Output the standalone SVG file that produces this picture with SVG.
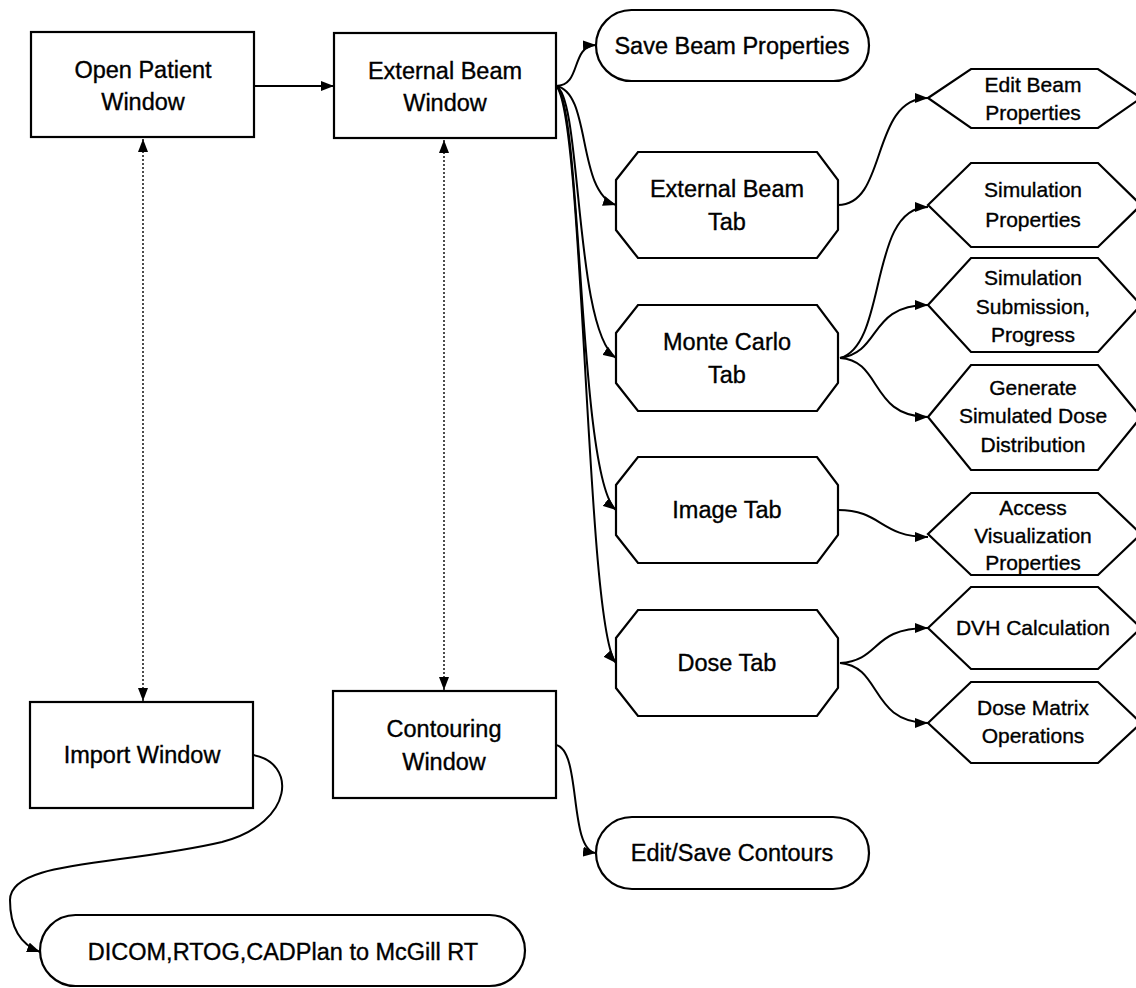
<svg xmlns="http://www.w3.org/2000/svg" width="1136" height="988" viewBox="0 0 1136 988">
  <style>
    .shape { fill: #fff; stroke: #000; stroke-width: 2.2; }
    .lbl { font-family: "Liberation Sans", Arial, sans-serif; font-size: 23.5px; text-anchor: middle; fill: #000; stroke: #000; stroke-width: 0.35; }
    .sm { font-size: 21px; }
    .edge { fill: none; stroke: #000; stroke-width: 2; }
    .dot { fill: none; stroke: #000; stroke-width: 1.4; stroke-dasharray: 2 2; }
  </style>
  <defs>
    <marker id="ah" viewBox="0 0 13 10" refX="13" refY="5" markerWidth="13" markerHeight="10" markerUnits="userSpaceOnUse" orient="auto-start-reverse">
      <path d="M0,0 L13,5 L0,10 z" fill="#000"/>
    </marker>
  </defs>
  <rect width="1136" height="988" fill="#fff"/>

  <!-- connectors -->
  <g id="connectors">
    <path class="edge" d="M254,86 L334,86" marker-end="url(#ah)"/>
    <path class="dot" d="M143,139 L143,701" marker-start="url(#ah)" marker-end="url(#ah)"/>
    <path class="dot" d="M444,140 L444,690" marker-start="url(#ah)" marker-end="url(#ah)"/>
    <path class="edge" d="M556,86 C582,86 570,46 596,45" marker-end="url(#ah)"/>
    <path class="edge" d="M556,86 C592,92 576,192 616,205" marker-end="url(#ah)"/>
    <path class="edge" d="M556,86 C582,96 574,330 616,358" marker-end="url(#ah)"/>
    <path class="edge" d="M556,86 C582,100 578,480 616,510" marker-end="url(#ah)"/>
    <path class="edge" d="M556,86 C584,110 586,630 616,663" marker-end="url(#ah)"/>
    <path class="edge" d="M838,205 C888,205 870,98 928,98" marker-end="url(#ah)"/>
    <path class="edge" d="M840,358 C888,345 868,207 928,207" marker-end="url(#ah)"/>
    <path class="edge" d="M840,358 C882,352 868,305 928,305" marker-end="url(#ah)"/>
    <path class="edge" d="M840,358 C882,360 870,417 928,417" marker-end="url(#ah)"/>
    <path class="edge" d="M838,510 C882,510 880,537 928,537" marker-end="url(#ah)"/>
    <path class="edge" d="M840,663 C882,660 870,628 928,628" marker-end="url(#ah)"/>
    <path class="edge" d="M840,663 C882,666 870,723 928,723" marker-end="url(#ah)"/>
    <path class="edge" d="M556,745 C582,750 568,850 596,853" marker-end="url(#ah)"/>
    <path class="edge" d="M253,755 C296,762 296,822 222,842 C120,866 10,860 10,900 C10,930 22,945 40,952" marker-end="url(#ah)"/>
  </g>

  <!-- windows -->
  <g id="open-patient">
    <rect class="shape" x="31" y="32" width="223" height="105"/>
    <text class="lbl" x="143" y="78">Open Patient</text>
    <text class="lbl" x="143" y="110">Window</text>
  </g>
  <g id="external-beam-window">
    <rect class="shape" x="334" y="33" width="222" height="105"/>
    <text class="lbl" x="445" y="79">External Beam</text>
    <text class="lbl" x="445" y="111">Window</text>
  </g>
  <g id="import-window">
    <rect class="shape" x="30" y="702" width="223" height="106"/>
    <text class="lbl" x="142" y="763">Import Window</text>
  </g>
  <g id="contouring-window">
    <rect class="shape" x="333" y="691" width="223" height="107"/>
    <text class="lbl" x="444" y="737">Contouring</text>
    <text class="lbl" x="444" y="770">Window</text>
  </g>

  <!-- terminal actions -->
  <g id="save-beam-properties">
    <rect class="shape" x="596" y="10" width="273" height="71" rx="35.5"/>
    <text class="lbl" x="732" y="54">Save Beam Properties</text>
  </g>
  <g id="edit-save-contours">
    <rect class="shape" x="596" y="817" width="273" height="72" rx="36"/>
    <text class="lbl" x="732" y="861">Edit/Save Contours</text>
  </g>
  <g id="dicom-import">
    <rect class="shape" x="40" y="915" width="485" height="71" rx="35.5"/>
    <text class="lbl" x="283" y="960">DICOM,RTOG,CADPlan to McGill RT</text>
  </g>

  <!-- tabs -->
  <g id="external-beam-tab">
    <polygon class="shape" points="638,152 817,152 838,180 838,230 817,258 638,258 616,230 616,180"/>
    <text class="lbl" x="727" y="197">External Beam</text>
    <text class="lbl" x="727" y="230">Tab</text>
  </g>
  <g id="monte-carlo-tab">
    <polygon class="shape" points="638,305 817,305 838,333 838,383 817,411 638,411 616,383 616,333"/>
    <text class="lbl" x="727" y="350">Monte Carlo</text>
    <text class="lbl" x="727" y="383">Tab</text>
  </g>
  <g id="image-tab">
    <polygon class="shape" points="638,457 817,457 838,485 838,535 817,563 638,563 616,535 616,485"/>
    <text class="lbl" x="727" y="518">Image Tab</text>
  </g>
  <g id="dose-tab">
    <polygon class="shape" points="638,610 817,610 838,638 838,688 817,716 638,716 616,688 616,638"/>
    <text class="lbl" x="727" y="671">Dose Tab</text>
  </g>

  <!-- tab operations -->
  <g id="edit-beam-properties">
    <polygon class="shape" points="928,98 971,69 1098,69 1141,98 1098,128 971,128"/>
    <text class="lbl sm" x="1033" y="92">Edit Beam</text>
    <text class="lbl sm" x="1033" y="120">Properties</text>
  </g>
  <g id="simulation-properties">
    <polygon class="shape" points="928,205 971,163 1098,163 1141,205 1098,247 971,247"/>
    <text class="lbl sm" x="1033" y="197">Simulation</text>
    <text class="lbl sm" x="1033" y="227">Properties</text>
  </g>
  <g id="simulation-submission">
    <polygon class="shape" points="928,305 971,258 1098,258 1141,305 1098,352 971,352"/>
    <text class="lbl sm" x="1033" y="285">Simulation</text>
    <text class="lbl sm" x="1033" y="314">Submission,</text>
    <text class="lbl sm" x="1033" y="342">Progress</text>
  </g>
  <g id="generate-dose">
    <polygon class="shape" points="928,417 971,365 1098,365 1141,417 1098,470 971,470"/>
    <text class="lbl sm" x="1033" y="395">Generate</text>
    <text class="lbl sm" x="1033" y="423">Simulated Dose</text>
    <text class="lbl sm" x="1033" y="452">Distribution</text>
  </g>
  <g id="access-visualization">
    <polygon class="shape" points="928,534 971,493 1098,493 1141,534 1098,575 971,575"/>
    <text class="lbl sm" x="1033" y="515">Access</text>
    <text class="lbl sm" x="1033" y="543">Visualization</text>
    <text class="lbl sm" x="1033" y="570">Properties</text>
  </g>
  <g id="dvh-calculation">
    <polygon class="shape" points="928,628 971,587 1098,587 1141,628 1098,669 971,669"/>
    <text class="lbl sm" x="1033" y="635">DVH Calculation</text>
  </g>
  <g id="dose-matrix">
    <polygon class="shape" points="928,723 971,682 1098,682 1141,723 1098,763 971,763"/>
    <text class="lbl sm" x="1033" y="715">Dose Matrix</text>
    <text class="lbl sm" x="1033" y="743">Operations</text>
  </g>
</svg>
